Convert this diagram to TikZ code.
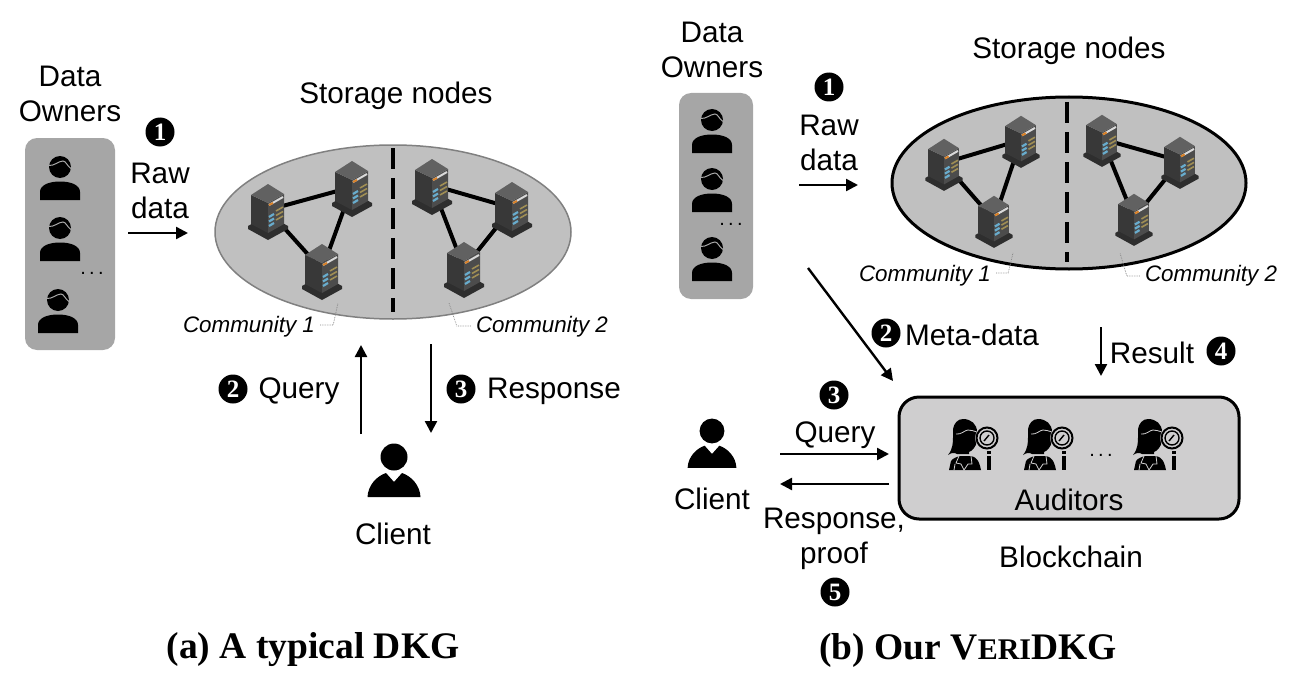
\documentclass[tikz,border=0pt]{standalone}
\usepackage{fontspec}
\setmainfont{Liberation Sans}
\newfontfamily\titlefont{Liberation Serif}
\usetikzlibrary{arrows.meta,positioning,shapes.geometric}
\definecolor{ownergray}{RGB}{166,166,166}
\definecolor{storegray}{RGB}{192,192,192}
\definecolor{chaingray}{RGB}{207,206,207}
\definecolor{ledblue}{RGB}{104,172,205}
\definecolor{ledyellow}{RGB}{160,142,84}
\tikzset{
  lbl/.style={font=\fontsize{29.7}{35.5}\selectfont,inner sep=0pt,align=center},
  comm/.style={font=\fontsize{22.4}{26}\selectfont\itshape,inner sep=0pt},
  num/.style={circle,fill=black,text=white,minimum size=29pt,inner sep=0pt,
              font=\fontsize{25}{25}\selectfont\titlefont\bfseries},
  captxt/.style={font=\fontsize{37.5}{42}\selectfont\titlefont\bfseries,inner sep=0pt},
  dotstxt/.style={font=\fontsize{20}{20}\selectfont,inner sep=0pt},
  arr/.style={-{Stealth[length=12pt,width=12pt,inset=0pt]},line width=2.4pt},
  link/.style={line width=4pt,black},
  leader/.style={line width=.7pt,gray,densely dotted},
  split/.style={line width=4pt,dash pattern=on 21pt off 9pt},
  pics/owner/.style={code={
    \fill (0,0) circle (11);
    \draw[line width=1pt,ownergray] (-11,-1.5) .. controls (-6,-1) and (-1,-6) .. (3,-6) .. controls (6,-6) and (7,-1) .. (11,1.5);
    \fill (-20,33) -- (-20,25) .. controls (-20,18) and (-11,14.5) .. (0,14.5) .. controls (11,14.5) and (20,18) .. (20,25) -- (20,33) -- cycle;
  }},
  pics/client/.style={code={
    \fill (0,0) circle (13.5);
    \fill (-26.5,40) .. controls (-26,28) and (-17,19) .. (-8,16) -- (0,25) -- (8,16) .. controls (17,19) and (26,28) .. (26.5,40) -- cycle;
  }},
  pics/server/.style={code={
    \fill[black!82] (-20,16) -- (0,5) -- (20,16) -- (20,19) -- (0,30) -- (-20,19) -- cycle;
    \fill[black!78] (-17,-15) -- (0,-7) -- (0,23) -- (-17,14) -- cycle;
    \fill[black!70] (16,-16) -- (0,-7) -- (0,23) -- (16,14) -- cycle;
    \fill[black!62] (0,-26) -- (16,-16) -- (0,-7) -- (-17,-15) -- cycle;
    \draw[line width=2pt,white!85!black] (1,-5) -- (15,-13);
    \draw[line width=2pt,orange!70!gray] (1,-5) -- (5,-7);
    \foreach \yy in {0,4.5,9}{
      \draw[line width=2.2pt,ledblue] (1,7+\yy) -- (6,4+\yy);
      \draw[line width=1.6pt,ledyellow] (8,\yy+1) -- (15,\yy-3);
    }
  }},
  pics/auditor/.style={code={
    % hair and face
    \fill (-10,-24) .. controls (-2,-24) and (4,-19) .. (4,-11) -- (4,-2) .. controls (3,4) and (-1,8) .. (-4,9) -- (-4,11) -- (-16,11) .. controls (-19,9) and (-22,10) .. (-25,12) .. controls (-20,6) and (-20,-1) .. (-20,-6) -- (-20,-14) .. controls (-19,-20) and (-15,-24) .. (-10,-24) -- cycle;
    \draw[chaingray,line width=.8pt] (-17,-9) .. controls (-12,-8) and (-8,-13) .. (-5,-13) .. controls (-2,-13) and (1,-12) .. (4,-11);
    % jacket
    \fill (-24,27) -- (-22,18) .. controls (-20,15) and (-16,14) .. (-13,13) -- (-2,13) .. controls (3,14) and (6,17) .. (8,27) -- cycle;
    \draw[chaingray,line width=.8pt] (-14,13) -- (-17,20) -- (-12,21) -- (-9,27) -- (-5,21) -- (-1,21) -- (-2,13);
    \draw[chaingray,line width=.8pt] (-18,21) -- (-19,27);
    % magnifier
    \fill[chaingray] (14,-5) circle (12);
    \draw[line width=2pt] (14,-5) circle (10.5);
    \draw[line width=1.4pt] (14,-5) circle (7);
    \draw[line width=1.4pt] (11,-2) -- (16,-8);
    \fill (13.5,8) rectangle (17.5,10.5);
    \fill (13.5,12.5) rectangle (17.5,27);
  }},
}
\begin{document}
\begin{tikzpicture}[x=1pt,y=-1pt]
  \useasboundingbox (0,0) rectangle (1305,682);

  % panel a
  \node[lbl] (ownA) at (70,94) {Data\\Owners};
  \node[fill=ownergray,rounded corners=12pt,minimum width=90pt,minimum height=212pt,inner sep=0pt] (boxA) at (70,244) {};
  \pic at (60,167) {owner};
  \pic at (60,228) {owner};
  \pic at (58,300) {owner};
  \node[dotstxt] (dotsA) at (92,273) {.\,.\,.};

  \node[num] (oneA) at (160,132) {1};
  \node[lbl] (rawA) at (160,191) {Raw\\data};
  \coordinate (rawAs) at (128,233);
  \coordinate (rawAe) at (188,233);
  \draw[arr] (rawAs) -- (rawAe);

  \node[lbl] (storeA) at (396,96) {Storage nodes};
  \node[ellipse,draw=gray,line width=1.5pt,fill=storegray,minimum width=356pt,minimum height=174pt,inner sep=0pt] (ellA) at (393,232) {};
  \coordinate (cutAt) at (393,148);
  \coordinate (cutAb) at (393,312);
  \draw[split] (cutAt) -- (cutAb);

  \coordinate (s1) at (268,210);
  \coordinate (s2) at (352,187);
  \coordinate (s3) at (322,270);
  \coordinate (s4) at (432,185);
  \coordinate (s5) at (512,208);
  \coordinate (s6) at (464,268);
  \draw[link] (s1) -- (s2) -- (s3) -- cycle;
  \draw[link] (s4) -- (s5) -- (s6) -- cycle;
  \foreach \s in {s1,s2,s3,s4,s5,s6}
    \pic at (\s) {server};

  \node[comm] (comA1) at (249,327) {Community 1};
  \node[comm] (comA2) at (542,327) {Community 2};
  \coordinate (tipA1) at (338,303);
  \coordinate (tipA2) at (449,303);
  \draw[leader] (comA1.east) ++(5,-2) -- ++(13,0) -- (tipA1);
  \draw[leader] (comA2.west) ++(-5,-1) -- ++(-14,0) -- (tipA2);

  \coordinate (clA) at (394,457);
  \pic at (clA) {client};
  \node[lbl] (clientA) at (393,534) {Client};
  \coordinate (qAs) at (361,434);
  \coordinate (qAe) at (361,345);
  \coordinate (rAs) at (431,344);
  \coordinate (rAe) at (431,433);
  \draw[arr] (qAs) -- (qAe);
  \draw[arr] (rAs) -- (rAe);
  \node[num] (twoA) at (233,389) {2};
  \node[lbl] (queryA) at (299,391) {Query};
  \node[num] (threeA) at (461,389) {3};
  \node[lbl] (respA) at (554,391) {Response};

  \node[captxt] (capA) at (313,650) {(a) A typical DKG};

  % panel b
  \node[lbl] (ownB) at (712,50) {Data\\Owners};
  \node[fill=ownergray,rounded corners=12pt,minimum width=74pt,minimum height=206pt,inner sep=0pt] (boxB) at (716,196) {};
  \pic at (712,120) {owner};
  \pic at (712,179) {owner};
  \pic at (712,248) {owner};
  \node[dotstxt] (dotsB) at (731,224) {.\,.\,.};

  \node[num] (oneB) at (829,87) {1};
  \node[lbl] (rawB) at (829,143) {Raw\\data};
  \coordinate (rawBs) at (799,185);
  \coordinate (rawBe) at (858,185);
  \draw[arr] (rawBs) -- (rawBe);

  \node[lbl] (storeB) at (1069,51) {Storage nodes};
  \node[ellipse,draw=black,line width=3pt,fill=storegray,minimum width=354pt,minimum height=172pt,inner sep=0pt] (ellB) at (1069,183) {};
  \coordinate (cutBt) at (1067,102);
  \coordinate (cutBb) at (1067,262);
  \draw[split] (cutBt) -- (cutBb);

  \coordinate (t1) at (944,163);
  \coordinate (t2) at (1021,140);
  \coordinate (t3) at (994,220);
  \coordinate (t4) at (1102,139);
  \coordinate (t5) at (1180,161);
  \coordinate (t6) at (1134,218);
  \draw[link] (t1) -- (t2) -- (t3) -- cycle;
  \draw[link] (t4) -- (t5) -- (t6) -- cycle;
  \foreach \s in {t1,t2,t3,t4,t5,t6}
    \pic[scale=.93] at (\s) {server};

  \node[comm] (comB1) at (925,276) {Community 1};
  \node[comm] (comB2) at (1211,276) {Community 2};
  \coordinate (tipB1) at (1013,253);
  \coordinate (tipB2) at (1120,253);
  \draw[leader] (comB1.east) ++(5,-3) -- ++(12,0) -- (tipB1);
  \draw[leader] (comB2.west) ++(-5,0) -- ++(-13,0) -- (tipB2);

  \coordinate (metaS) at (808,268);
  \coordinate (metaE) at (893,381);
  \draw[arr] (metaS) -- (metaE);
  \node[num] (twoB) at (886,333) {2};
  \node[lbl] (metaB) at (972,335) {Meta-data};

  \coordinate (resS) at (1101,327);
  \coordinate (resE) at (1101,376);
  \draw[arr] (resS) -- (resE);
  \node[lbl] (resultB) at (1152,353) {Result};
  \node[num] (fourB) at (1221,351) {4};

  \node[draw=black,line width=3pt,fill=chaingray,rounded corners=20pt,minimum width=340pt,minimum height=122pt,inner sep=0pt] (chain) at (1069,458) {};
  \pic at (973,443) {auditor};
  \pic at (1048,443) {auditor};
  \pic at (1158,443) {auditor};
  \node[dotstxt] (dotsC) at (1101,455) {.\,.\,.};
  \node[lbl] (audit) at (1069,500) {Auditors};
  \node[lbl] (block) at (1071,557) {Blockchain};

  \coordinate (clB) at (712,431);
  \pic[scale=.92] at (clB) {client};
  \node[lbl] (clientB) at (712,499) {Client};
  \node[num] (threeB) at (834,395) {3};
  \node[lbl] (queryB) at (835,435) {Query};
  \coordinate (qBs) at (780,454);
  \coordinate (qBe) at (889,454);
  \coordinate (rBs) at (889,484);
  \coordinate (rBe) at (780,484);
  \draw[arr] (qBs) -- (qBe);
  \draw[arr] (rBs) -- (rBe);
  \node[lbl] (respB) at (834,539) {Response,\\proof};
  \node[num] (fiveB) at (835,592) {5};

  \node[captxt] (capB) at (968,650) {(b) Our V{\fontsize{30}{32}\selectfont ERI}DKG};
\end{tikzpicture}
\end{document}
